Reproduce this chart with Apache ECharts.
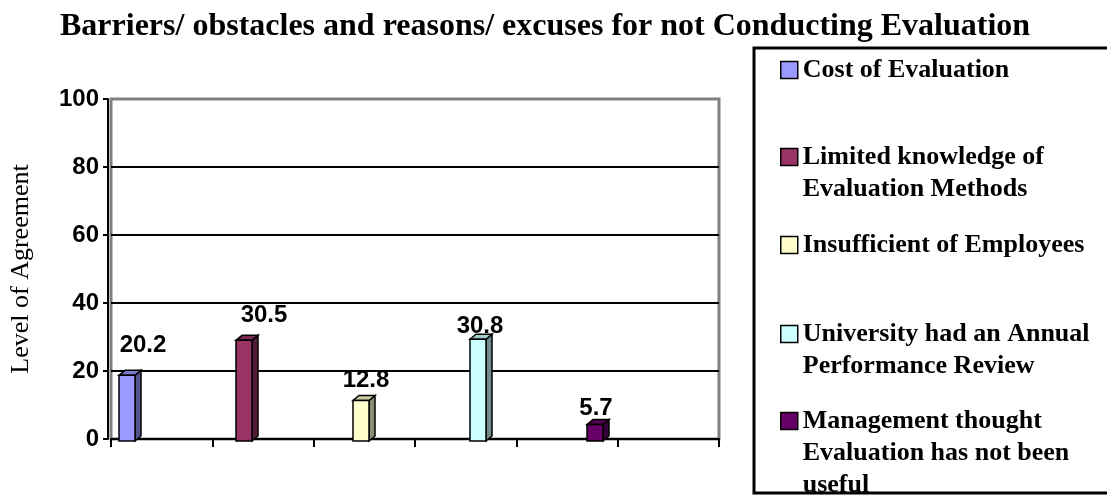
<!DOCTYPE html>
<html>
<head>
<meta charset="utf-8">
<script src="https://cdn.jsdelivr.net/npm/echarts@6/dist/echarts.min.js"></script>
<style>
  html, body { margin: 0; padding: 0; background: #fff; }
  #chart { width: 1107px; height: 495px; }
</style>
</head>
<body>
<div id="chart"></div>
<script>
// data
var reasons = [
    'Cost of Evaluation',
    'Limited knowledge of\nEvaluation Methods',
    'Insufficient of Employees',
    'University had an Annual\nPerformance Review',
    'Management thought\nEvaluation has not been\nuseful'
];
var agreement = [20.2, 30.5, 12.8, 30.8, 5.7];
var tickSlots = ['', '', '', '', '', ''];
var yMin = 0, yMax = 100, yStep = 20;

// look
var barColors = ['#9999FF', '#993366', '#FFFFCC', '#CCFFFF', '#660066'];
var labelNudge = [[16, -23], [20, -18], [5, -13], [2, -6], [1, -9]]; // value labels sit a bit off the bars
var legendIconY = [70, 157, 245, 334, 421]; // legend rows are evenly spaced, icon on the first line
var LINE_H = 32;

var BAR_W = 16, DX = 6, DY = 5;

function darken(hex, k) {
    var n = parseInt(hex.slice(1), 16);
    var r = Math.round(((n >> 16) & 255) * k);
    var g = Math.round(((n >> 8) & 255) * k);
    var b = Math.round((n & 255) * k);
    return 'rgb(' + r + ',' + g + ',' + b + ')';
}

function renderBar(params, api) {
    var top = api.coord([api.value(0), api.value(1)]);
    var base = api.coord([api.value(0), 0]);
    var color = barColors[params.seriesIndex];
    var x0 = top[0] - BAR_W / 2;
    var yt = top[1] + DY;
    var yb = base[1] + 2;
    var nudge = labelNudge[params.seriesIndex];
    return {
        type: 'group',
        children: [
            {
                type: 'polygon',
                shape: {points: [[x0 + BAR_W, yt], [x0 + BAR_W + DX, yt - DY], [x0 + BAR_W + DX, yb - DY], [x0 + BAR_W, yb]]},
                style: {fill: darken(color, 0.55), stroke: '#000', lineWidth: 1.5}
            },
            {
                type: 'polygon',
                shape: {points: [[x0, yt], [x0 + DX, yt - DY], [x0 + BAR_W + DX, yt - DY], [x0 + BAR_W, yt]]},
                style: {fill: darken(color, 0.8), stroke: '#000', lineWidth: 1.5}
            },
            {
                type: 'rect',
                shape: {x: x0, y: yt, width: BAR_W, height: yb - yt},
                style: {fill: color, stroke: '#000', lineWidth: 1.5}
            },
            {
                type: 'text',
                style: {
                    text: String(api.value(1)),
                    x: top[0] + nudge[0],
                    y: yt + nudge[1] + 5,
                    align: 'center',
                    verticalAlign: 'bottom',
                    font: 'bold 24px "Liberation Sans", Arial, sans-serif',
                    fill: '#000'
                }
            }
        ]
    };
}

// legend text is centred on its icon; blank lines in front keep the icon on the first line
function legendText(name) {
    var lines = name.split('\n').length;
    return new Array(lines).join('\n') + name;
}

var seriesList = [];
var legends = [];
for (var i = 0; i < reasons.length; i++) {
    seriesList.push({
        name: reasons[i],
        type: 'custom',
        xAxisIndex: 1,
        yAxisIndex: 1,
        itemStyle: {color: barColors[i]},
        encode: {x: 0, y: 1},
        renderItem: renderBar,
        data: [[i, agreement[i]]]
    });
    var lines = reasons[i].split('\n').length;
    legends.push({
        orient: 'vertical',
        left: 780,
        top: legendIconY[i] - (2 * lines - 1) * LINE_H / 2,
        padding: 0,
        itemWidth: 17,
        itemHeight: 17,
        icon: 'rect',
        selectedMode: false,
        data: [reasons[i]],
        formatter: legendText,
        itemStyle: {borderColor: '#000', borderWidth: 1.5},
        textStyle: {
            fontFamily: '"Liberation Serif", "Times New Roman", serif',
            fontWeight: 'bold',
            fontSize: 26,
            lineHeight: LINE_H,
            color: '#000'
        }
    });
}

var chart = echarts.init(document.getElementById('chart'));
chart.setOption({
    animation: false,
    title: {
        text: 'Barriers/ obstacles and reasons/ excuses for not Conducting Evaluation',
        left: 55,
        top: 6,
        textStyle: {fontFamily: '"Liberation Serif", "Times New Roman", serif', fontWeight: 'bold', fontSize: 32, color: '#000'}
    },
    graphic: [{
        type: 'rect',
        shape: {x: 754, y: 48, width: 420, height: 445},
        style: {fill: 'none', stroke: '#000', lineWidth: 3},
        z: 100
    }],
    legend: legends,
    grid: [
        {left: 110, right: 388, top: 99, bottom: 56, show: true, borderColor: '#808080', borderWidth: 3},
        {left: 68.5, right: 453.5, top: 99, bottom: 56}
    ],
    xAxis: [
        {
            type: 'category',
            gridIndex: 0,
            data: tickSlots,
            offset: 3,
            axisLine: {show: true, lineStyle: {color: '#000', width: 2}},
            axisTick: {show: true, length: 8, lineStyle: {color: '#000', width: 2}},
            axisLabel: {show: false}
        },
        {type: 'category', gridIndex: 1, data: reasons, show: false}
    ],
    yAxis: [
        {
            type: 'value',
            gridIndex: 0,
            min: yMin,
            max: yMax,
            interval: yStep,
            offset: 3,
            name: 'Level of Agreement',
            nameLocation: 'middle',
            nameGap: 74,
            nameTextStyle: {fontFamily: '"Liberation Serif", "Times New Roman", serif', fontSize: 26, color: '#000'},
            axisLine: {show: true, lineStyle: {color: '#000', width: 2}},
            axisTick: {show: true, length: 5, lineStyle: {color: '#000', width: 2}},
            axisLabel: {margin: 9, color: '#000', fontFamily: '"Liberation Sans", Arial, sans-serif', fontWeight: 'bold', fontSize: 24},
            splitLine: {show: true, showMinLine: false, showMaxLine: false, lineStyle: {color: '#000', width: 2}}
        },
        {type: 'value', gridIndex: 1, min: yMin, max: yMax, show: false, splitLine: {show: false}}
    ],
    series: seriesList
});
</script>
</body>
</html>
